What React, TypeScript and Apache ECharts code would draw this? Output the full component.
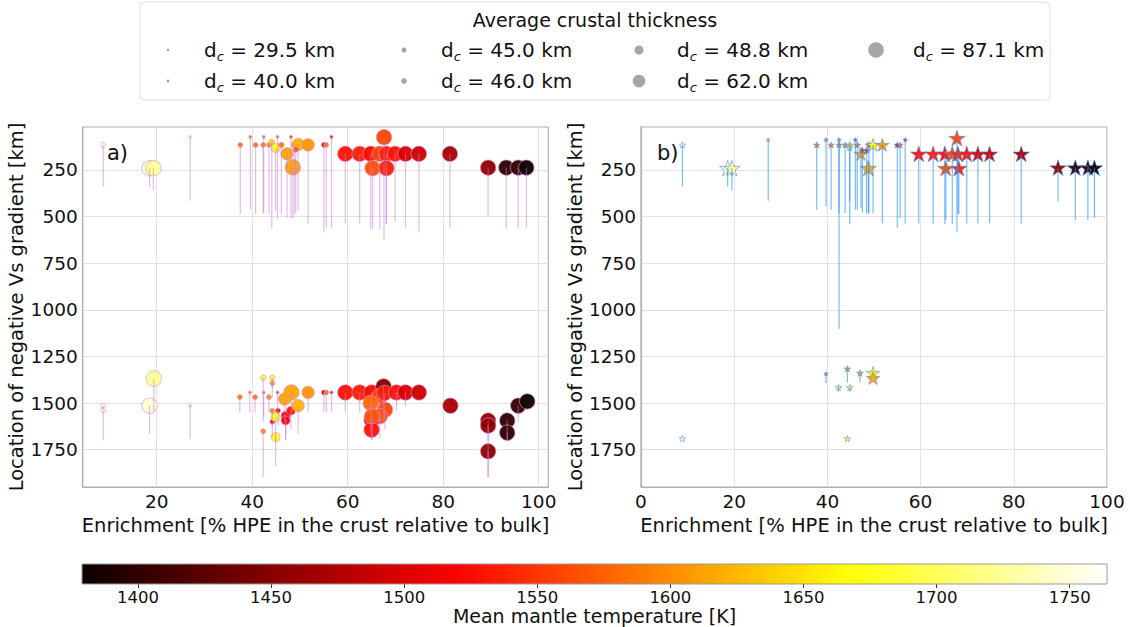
import React, { useEffect, useRef } from "react";
import * as echarts from "echarts";

// ---------- data ----------
const T_MIN = 1379;
const T_MAX = 1764;
const tempTicks = [1400, 1450, 1500, 1550, 1600, 1650, 1700, 1750];
const depthTicks = [250, 500, 750, 1000, 1250, 1500, 1750];
const enrichTicks = [20, 40, 60, 80, 100];
const thickLegend = [29.5, 40.0, 45.0, 46.0, 48.8, 62.0, 87.1];

// panel a
const enrichA = [
  8.8, 18.5, 19.3, 27.0, 37.5, 39.6, 40.7, 42.4, 42.3, 43.5,
  44.1, 44.9, 45.3, 46.1, 47.3, 48.1, 48.8, 48.5, 49.6, 49.1,
  51.7, 55.0, 55.5, 56.6, 59.5, 62.5, 64.8, 66.7, 68.1, 69.9,
  72.1, 74.9, 67.6, 65.2, 68.1, 81.4, 89.4, 93.2, 95.7, 97.4,
  8.8, 8.8, 19.4, 18.5, 27.0, 37.4, 39.5, 40.6, 42.4, 42.3,
  44.2, 44.2, 43.5, 45.3, 44.2, 45.4, 44.2, 44.9, 44.9, 42.3,
  47.0, 47.0, 48.1, 48.2, 46.8, 49.6, 51.7, 55.0, 55.5, 56.6,
  59.5, 62.5, 65.0, 67.5, 66.7, 64.8, 67.7, 70.2, 72.1, 74.9,
  67.8, 66.7, 65.0, 65.0, 65.1, 81.5, 89.4, 89.4, 89.4, 93.4,
  93.4, 95.7, 97.6,
];
const depthA = [
  116, 241, 241, 73, 116, 73, 116, 73, 116, 116,
  100, 132, 73, 116, 164, 73, 116, 236, 114, 141,
  116, 116, 116, 73, 164, 164, 164, 164, 164, 164,
  164, 164, 75, 241, 241, 164, 238, 238, 238, 238,
  1514, 1539, 1369, 1514, 1514, 1468, 1443, 1468, 1443, 1364,
  1364, 1393, 1468, 1443, 1541, 1541, 1600, 1575, 1682, 1651,
  1568, 1593, 1541, 1443, 1478, 1514, 1443, 1443, 1443, 1443,
  1443, 1443, 1443, 1411, 1464, 1500, 1446, 1443, 1443, 1443,
  1536, 1571, 1589, 1643, 1571, 1514, 1594, 1621, 1759, 1594,
  1659, 1514, 1491,
];
const depthEndA = [
  339, 339, 361, 416, 487, 464, 487, 482, 482, 487,
  566, 470, 514, 491, 509, 509, 491, 509, 470, 480,
  537, 584, 559, 559, 537, 537, 566, 566, 540, 530,
  559, 584, 623, 566, 540, 559, 500, 566, 566, 559,
  1700, 1539, 1544, 1666, 1691, 1550, 1550, 1550, 1575, 1600,
  1420, 1470, 1550, 1550, 1620, 1620, 1680, 1700, 1839, 1898,
  1700, 1700, 1640, 1550, 1600, 1664, 1550, 1550, 1550, 1550,
  1550, 1550, 1560, 1600, 1600, 1640, 1580, 1540, 1520, 1443,
  1640, 1690, 1700, 1700, 1680, 1514, 1898, 1700, 1898, 1700,
  1700, 1600, 1491,
];
const tempA = [
  1752, 1747, 1724, 1675, 1590, 1590, 1590, 1590, 1595, 1600,
  1640, 1675, 1590, 1590, 1614, 1560, 1555, 1614, 1622, 1570,
  1606, 1485, 1590, 1510, 1530, 1535, 1525, 1559, 1535, 1530,
  1498, 1491, 1559, 1565, 1535, 1470, 1455, 1400, 1402, 1382,
  1745, 1764, 1724, 1747, 1675, 1590, 1590, 1590, 1590, 1675,
  1675, 1610, 1600, 1560, 1600, 1520, 1520, 1675, 1675, 1600,
  1520, 1520, 1530, 1614, 1614, 1622, 1606, 1485, 1590, 1510,
  1530, 1535, 1525, 1450, 1559, 1580, 1535, 1530, 1498, 1491,
  1559, 1565, 1525, 1530, 1570, 1470, 1455, 1455, 1455, 1400,
  1400, 1402, 1382,
];
const thickA = [
  45, 87.1, 87.1, 29.5, 45, 40, 45, 40, 45, 45,
  46, 48.8, 40, 46, 62, 40, 46, 87.1, 62, 46,
  62, 45, 45, 40, 87.1, 87.1, 87.1, 87.1, 87.1, 87.1,
  87.1, 87.1, 87.1, 87.1, 87.1, 87.1, 87.1, 87.1, 87.1, 87.1,
  45, 45, 87.1, 87.1, 29.5, 45, 40, 45, 40, 46,
  46, 45, 45, 40, 45, 45, 45, 48.8, 48.8, 45,
  48.8, 48.8, 48.8, 87.1, 62, 62, 62, 45, 45, 40,
  87.1, 87.1, 87.1, 87.1, 87.1, 87.1, 87.1, 87.1, 87.1, 87.1,
  87.1, 87.1, 87.1, 87.1, 87.1, 87.1, 87.1, 87.1, 87.1, 87.1,
  87.1, 87.1, 87.1,
];

// panel b
const enrichB = [
  8.9, 18.6, 19.5, 27.3, 37.7, 39.7, 40.8, 42.5, 42.5, 43.8,
  44.8, 44.8, 46.0, 46.4, 47.2, 48.4, 47.5, 48.8, 48.9, 49.8,
  51.8, 55.0, 55.6, 56.7, 59.6, 62.7, 65.2, 66.8, 68.0, 69.9,
  72.3, 74.8, 67.8, 65.4, 68.2, 81.6, 89.5, 93.2, 95.9, 97.3,
  39.7, 42.4, 44.8, 44.3, 47.0, 49.8, 49.8, 8.9, 44.3,
];
const depthB = [
  116, 241, 241, 88, 116, 88, 116, 116, 88, 116,
  116, 130, 88, 116, 164, 145, 145, 241, 116, 116,
  116, 116, 116, 88, 164, 164, 164, 164, 164, 164,
  164, 164, 80, 241, 241, 164, 238, 238, 238, 238,
  1343, 1416, 1416, 1316, 1339, 1339, 1366, 1691, 1691,
];
const depthEndB = [
  339, 339, 361, 416, 464, 446, 464, 1103, 482, 482,
  541, 420, 464, 464, 455, 487, 480, 482, 482, 482,
  536, 559, 509, 537, 537, 537, 541, 541, 487, 537,
  537, 537, 584, 518, 487, 537, 420, 518, 518, 509,
  1393, 1440, 1440, 1390, 1390, 1339, 1366, 1691, 1691,
];
const tempB = [
  1764, 1747, 1724, 1675, 1590, 1590, 1590, 1590, 1590, 1600,
  1640, 1675, 1560, 1590, 1614, 1550, 1540, 1614, 1555, 1660,
  1606, 1485, 1590, 1510, 1530, 1535, 1525, 1559, 1535, 1530,
  1498, 1491, 1559, 1565, 1535, 1470, 1455, 1400, 1402, 1382,
  1590, 1675, 1675, 1600, 1600, 1660, 1614, 1764, 1675,
];
const thickB = [
  45, 87.1, 87.1, 29.5, 45, 40, 45, 45, 40, 45,
  46, 46, 40, 46, 62, 46, 45, 87.1, 46, 62,
  62, 45, 45, 40, 87.1, 87.1, 87.1, 87.1, 87.1, 87.1,
  87.1, 87.1, 87.1, 87.1, 87.1, 87.1, 87.1, 87.1, 87.1, 87.1,
  40, 45, 45, 45, 46, 62, 62, 45, 45,
];

// ---------- styles ----------
const FONT = "DejaVu Sans";
const CIRCLE_SIZE: Record<string, number> = { "29.5": 2.5, "40": 3, "45": 5, "46": 5.5, "48.8": 9, "62": 12.5, "87.1": 15.5 };
const STAR_SIZE: Record<string, number> = { "29.5": 4, "40": 4.5, "45": 6.5, "46": 7, "48.8": 10, "62": 13.5, "87.1": 16.5 };

function hotRGB(T: number): number[] {
  let t = (T - T_MIN) / (T_MAX - T_MIN);
  t = Math.max(0, Math.min(1, t));
  const a = 0.365079, b = 0.746032;
  const r = t < a ? 0.0416 + (1 - 0.0416) * (t / a) : 1;
  const g = t < a ? 0 : t < b ? (t - a) / (b - a) : 1;
  const bl = t < b ? 0 : (t - b) / (1 - b);
  return [Math.round(r * 255), Math.round(g * 255), Math.round(bl * 255)];
}
const hot = (T: number) => {
  const c = hotRGB(T);
  return `rgb(${c[0]},${c[1]},${c[2]})`;
};

function starPath(): string {
  const pts: string[] = [];
  for (let i = 0; i < 10; i++) {
    const r = i % 2 === 0 ? 1 : 0.382;
    const ang = -Math.PI / 2 + (i * Math.PI) / 5;
    pts.push(`${(50 + 50 * r * Math.cos(ang)).toFixed(2)},${(50 + 50 * r * Math.sin(ang)).toFixed(2)}`);
  }
  return "path://M" + pts.join("L") + "Z";
}

function lineSeries(idx: number, xs: number[], ys: number[], ends: number[], color: string) {
  return {
    type: "custom",
    xAxisIndex: idx,
    yAxisIndex: idx,
    z: 4,
    silent: true,
    clip: true,
    encode: { x: 0, y: [1, 2] },
    data: xs.map((x, i) => [x, ys[i], ends[i]]),
    renderItem: (_p: any, api: any) => {
      const p0 = api.coord([api.value(0), api.value(1)]);
      const p1 = api.coord([api.value(0), api.value(2)]);
      return {
        type: "line",
        shape: { x1: p0[0], y1: p0[1], x2: p1[0], y2: p1[1] },
        style: { stroke: color, lineWidth: 1.2 },
      };
    },
  };
}

const plain = (v: number) => String(v);
const axisText = { fontSize: 18.5, color: "#111", fontFamily: FONT, formatter: plain };
const nameStyle = { fontSize: 19.5, color: "#111", fontFamily: FONT };

function xAxisFor(idx: number, min: number, max: number) {
  const ticks = idx === 1 ? [0].concat(enrichTicks) : enrichTicks;
  return {
    gridIndex: idx,
    type: "value",
    min,
    max,
    axisLine: { show: true, lineStyle: { color: "#b0b0b0", width: 1.2 } },
    axisTick: { show: false, customValues: ticks },
    axisLabel: { ...axisText, margin: 5, customValues: ticks },
    splitLine: { show: true, lineStyle: { color: "#e2e2e2", width: 1 } },
    name: "Enrichment [% HPE in the crust relative to bulk]",
    nameLocation: "middle",
    nameGap: 20,
    nameTextStyle: nameStyle,
  };
}
function yAxisFor(idx: number) {
  return {
    gridIndex: idx,
    type: "value",
    inverse: true,
    min: 20,
    max: 1950,
    axisLine: { show: true, lineStyle: { color: "#b0b0b0", width: 1.2 } },
    axisTick: { show: false, customValues: depthTicks },
    axisLabel: { ...axisText, margin: 5, customValues: depthTicks },
    splitLine: { show: true, lineStyle: { color: "#e2e2e2", width: 1 } },
    name: "Location of negative Vs gradient [km]",
    nameLocation: "middle",
    nameGap: 42,
    nameTextStyle: nameStyle,
  };
}

function legendGraphic() {
  const markerX = [168, 404, 639, 876];
  const textX = [204, 441, 677, 913];
  const rowY = [50, 81];
  const children: any[] = [
    {
      type: "rect",
      shape: { x: 140, y: 2, width: 910, height: 98, r: 4 },
      style: { fill: "#fff", stroke: "#dedede", lineWidth: 1 },
    },
    {
      type: "text",
      x: 595,
      y: 20,
      style: {
        text: "Average crustal thickness",
        fontSize: 19,
        fontFamily: FONT,
        fill: "#111",
        align: "center",
        verticalAlign: "middle",
      },
    },
  ];
  thickLegend.forEach((d, i) => {
    const col = Math.floor(i / 2);
    const row = i % 2;
    children.push({
      type: "circle",
      shape: { cx: markerX[col], cy: rowY[row], r: CIRCLE_SIZE[String(d)] / 2 },
      style: { fill: "#a6a6a6" },
    });
    children.push({
      type: "text",
      x: textX[col],
      y: rowY[row],
      style: {
        text: `{n|d}{s|c}{n| = ${d.toFixed(1)} km}`,
        verticalAlign: "middle",
        align: "left",
        rich: {
          n: { fontSize: 20, fontFamily: FONT, fill: "#111", lineHeight: 26 },
          s: { fontSize: 13, fontFamily: FONT, fontStyle: "italic", fill: "#111", lineHeight: 14, verticalAlign: "bottom" },
        },
      },
    });
  });
  return { type: "group", children };
}

export default function App() {
  const ref = useRef<HTMLDivElement>(null);
  useEffect(() => {
    if (!ref.current) return;
    const chart = echarts.init(ref.current, undefined, { renderer: "svg" });
    const STAR = starPath();

    const scatterA = {
      type: "scatter",
      xAxisIndex: 0,
      yAxisIndex: 0,
      z: 3,
      data: enrichA.map((x, i) => [x, depthA[i], tempA[i], thickA[i]]),
      symbol: "circle",
      symbolSize: (v: number[]) => CIRCLE_SIZE[String(v[3])],
      itemStyle: {
        color: (p: any) => hot(p.value[2]),
        borderColor: "rgba(215,150,215,0.9)",
        borderWidth: 0.8,
        opacity: 0.95,
      },
    };
    const scatterB = {
      type: "scatter",
      xAxisIndex: 1,
      yAxisIndex: 1,
      z: 3,
      data: enrichB.map((x, i) => [x, depthB[i], tempB[i], thickB[i]]),
      symbol: STAR,
      symbolKeepAspect: true,
      symbolSize: (v: number[]) => STAR_SIZE[String(v[3])],
      itemStyle: {
        color: (p: any) => hot(p.value[2]),
        borderColor: "rgba(80,140,225,0.75)",
        borderWidth: 0.8,
        opacity: 0.95,
      },
    };

    const colorbar = {
      type: "custom",
      xAxisIndex: 2,
      yAxisIndex: 2,
      silent: true,
      data: [[T_MIN, T_MAX]],
      encode: { x: [0, 1] },
      renderItem: (_p: any, api: any) => {
        const p0 = api.coord([api.value(0), 0]);
        const p1 = api.coord([api.value(1), 1]);
        const stops = [0, 0.365079, 0.746032, 1].map((o) => ({
          offset: o,
          color: hot(T_MIN + o * (T_MAX - T_MIN)),
        }));
        return {
          type: "rect",
          shape: { x: p0[0], y: p1[1], width: p1[0] - p0[0], height: p0[1] - p1[1] },
          style: {
            fill: new echarts.graphic.LinearGradient(0, 0, 1, 0, stops),
            stroke: "#9a9a9a",
            lineWidth: 1,
          },
        };
      },
    };

    const option: any = {
      animation: false,
      backgroundColor: "#fff",
      textStyle: { fontFamily: FONT },
      grid: [
        { left: 82.7, top: 127, width: 465.6, height: 360, show: true, borderColor: "#b0b0b0", borderWidth: 1.2, backgroundColor: "transparent" },
        { left: 641, top: 127, width: 466, height: 360, show: true, borderColor: "#b0b0b0", borderWidth: 1.2, backgroundColor: "transparent" },
        { left: 82, top: 564, width: 1025, height: 20 },
      ],
      xAxis: [
        xAxisFor(0, 4.5, 102),
        xAxisFor(1, 0, 100),
        {
          gridIndex: 2,
          type: "value",
          min: T_MIN,
          max: T_MAX,
          axisLine: { show: false },
          axisTick: { show: true, length: 4, customValues: tempTicks, lineStyle: { color: "#333" } },
          axisLabel: { fontSize: 16.5, color: "#111", fontFamily: FONT, margin: 5, customValues: tempTicks, formatter: plain },
          splitLine: { show: false },
          name: "Mean mantle temperature [K]",
          nameLocation: "middle",
          nameGap: 18,
          nameTextStyle: { fontSize: 19, color: "#111", fontFamily: FONT },
        },
      ],
      yAxis: [
        yAxisFor(0),
        yAxisFor(1),
        { gridIndex: 2, type: "value", min: 0, max: 1, show: false },
      ],
      series: [
        scatterA,
        lineSeries(0, enrichA, depthA, depthEndA, "rgba(205,120,215,0.5)"),
        scatterB,
        lineSeries(1, enrichB, depthB, depthEndB, "rgba(30,144,255,0.6)"),
        colorbar,
      ],
      graphic: [
        legendGraphic(),
        {
          type: "text",
          x: 107,
          y: 153,
          style: { text: "a)", fontSize: 21, fontFamily: FONT, fill: "#111", verticalAlign: "middle" },
        },
        {
          type: "text",
          x: 657,
          y: 153,
          style: { text: "b)", fontSize: 21, fontFamily: FONT, fill: "#111", verticalAlign: "middle" },
        },
      ],
    };
    chart.setOption(option);
    return () => chart.dispose();
  }, []);
  return (
    <div
      ref={ref}
      style={{ position: "fixed", left: 0, top: 0, width: 1130, height: 627, background: "#fff" }}
    />
  );
}
